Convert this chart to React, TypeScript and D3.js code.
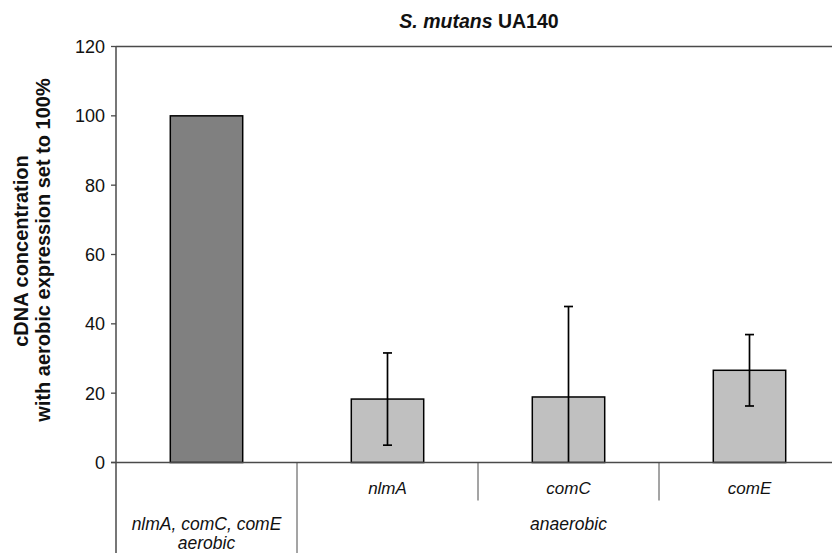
import React from 'react';
import * as d3 from 'd3';

// categories along x
const categories = ['aerobic', 'nlmA', 'comC', 'comE'];
const values = [100, 18.3, 18.9, 26.6];
const errors = [0, 13.3, 26.1, 10.3];
const barColors = ['#808080', '#c0c0c0', '#c0c0c0', '#c0c0c0'];
const yTicks = [0, 20, 40, 60, 80, 100, 120];
const geneLabels = ['', 'nlmA', 'comC', 'comE'];

const W = 832;
const H = 553;
const margin = { top: 46.5, right: -8, bottom: 90.5, left: 116 };

const App: React.FC = () => {
  const x0 = margin.left;
  const x1 = W - margin.right;
  const yTop = margin.top;
  const yBase = H - margin.bottom;

  const x = d3.scaleBand<string>()
    .domain(categories)
    .range([x0, x1])
    .paddingInner(0.6)
    .paddingOuter(0.3);

  const y = d3.scaleLinear().domain([0, 120]).range([yBase, yTop]);

  const step = x.step();
  const font = '"Liberation Sans", Arial, sans-serif';
  const axisColor = '#4a4a4a';

  return (
    <svg
      width={W}
      height={H}
      style={{ position: 'absolute', left: 0, top: 0, background: '#fff' }}
      fontFamily={font}
    >
      {/* title */}
      <text x={479} y={28} textAnchor="middle" fontSize={19.5} fontWeight="bold" fill="#111">
        <tspan fontStyle="italic">S. mutans</tspan> UA140
      </text>

      {/* y axis title */}
      <g transform={`translate(28, 251) rotate(-90)`}>
        <text textAnchor="middle" fontSize={20} fontWeight="bold" fill="#111">cDNA concentration</text>
      </g>
      <g transform={`translate(50, 250) rotate(-90)`}>
        <text textAnchor="middle" fontSize={20} fontWeight="bold" fill="#111">with aerobic expression set to 100%</text>
      </g>

      {/* plot frame top */}
      <line x1={x0} x2={W} y1={yTop} y2={yTop} stroke={axisColor} strokeWidth={1.6} />

      {/* bars */}
      {categories.map((c, i) => (
        <rect
          key={c}
          x={x(c)!}
          y={y(values[i])}
          width={x.bandwidth()}
          height={yBase - y(values[i])}
          fill={barColors[i]}
          stroke="#000"
          strokeWidth={1.5}
        />
      ))}

      {/* error bars */}
      {categories.map((c, i) => {
        if (!errors[i]) return null;
        const cx = x(c)! + x.bandwidth() / 2;
        const hi = values[i] + errors[i];
        const lo = values[i] - errors[i];
        const loClip = Math.max(lo, 0);
        return (
          <g key={`e-${c}`} stroke="#000" strokeWidth={1.7}>
            <line x1={cx} x2={cx} y1={y(hi)} y2={y(loClip)} />
            <line x1={cx - 4.5} x2={cx + 4.5} y1={y(hi)} y2={y(hi)} />
            {lo >= 0 && <line x1={cx - 4.5} x2={cx + 4.5} y1={y(lo)} y2={y(lo)} />}
          </g>
        );
      })}

      {/* y axis */}
      <line x1={x0} x2={x0} y1={yTop} y2={H} stroke={axisColor} strokeWidth={1.5} />
      {yTicks.map(t => (
        <g key={t}>
          <line x1={x0 - 5} x2={x0} y1={y(t)} y2={y(t)} stroke={axisColor} strokeWidth={1.3} />
          <text x={x0 - 11} y={y(t) + 6.5} textAnchor="end" fontSize={18} fill="#111">{t}</text>
        </g>
      ))}

      {/* baseline */}
      <line x1={x0 - 5} x2={W} y1={yBase} y2={yBase} stroke={axisColor} strokeWidth={1.5} />

      {/* category dividers */}
      {categories.slice(1).map((c, i) => {
        const dx = x0 + step * (i + 1);
        return (
          <line
            key={`d-${c}`}
            x1={dx}
            x2={dx}
            y1={yBase}
            y2={i === 0 ? H : yBase + 38}
            stroke={axisColor}
            strokeWidth={1}
          />
        );
      })}

      {/* gene labels */}
      {categories.map((c, i) => geneLabels[i] ? (
        <text
          key={`g-${c}`}
          x={x0 + step * (i + 0.5)}
          y={494}
          textAnchor="middle"
          fontSize={17}
          fontStyle="italic"
          fill="#111"
        >
          {geneLabels[i]}
        </text>
      ) : null)}

      {/* condition labels */}
      <text x={x0 + step * 0.5} y={530} textAnchor="middle" fontSize={17.5} fontStyle="italic" fill="#111">
        nlmA, comC, comE
      </text>
      <text x={x0 + step * 0.5} y={549} textAnchor="middle" fontSize={17.5} fontStyle="italic" fill="#111">
        aerobic
      </text>
      <text x={x0 + step * 2.5} y={530} textAnchor="middle" fontSize={17.5} fontStyle="italic" fill="#111">
        anaerobic
      </text>
    </svg>
  );
};

export default App;
